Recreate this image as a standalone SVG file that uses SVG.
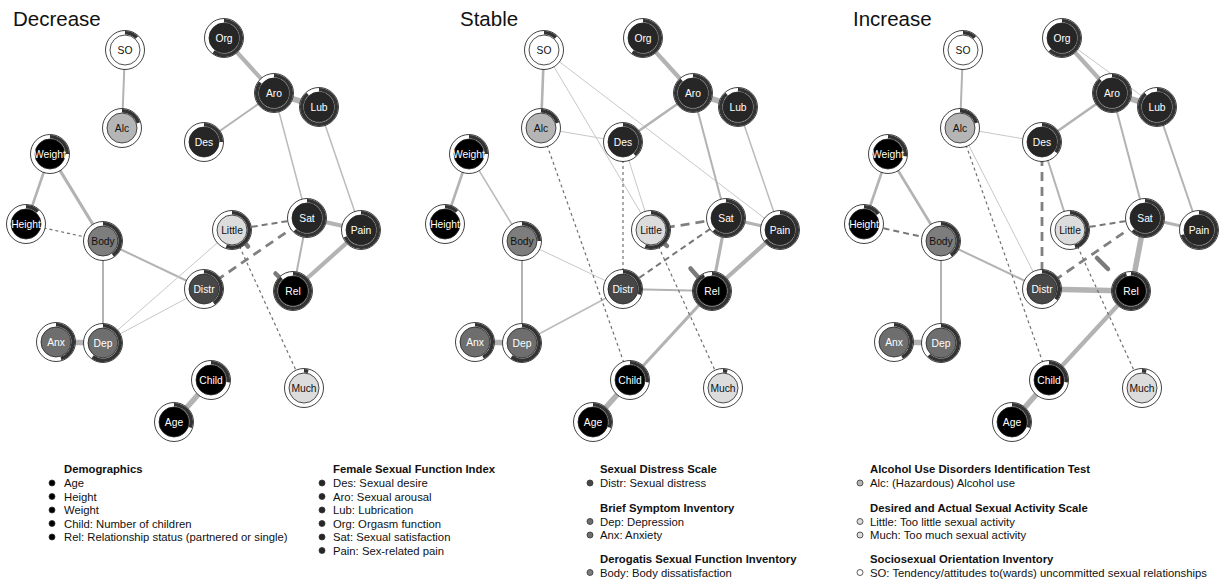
<svg xmlns="http://www.w3.org/2000/svg" width="1229" height="585" viewBox="0 0 1229 585">
<style>
.bg{fill:#fff}
.t{font-family:"Liberation Sans",Arial,Helvetica,sans-serif;font-size:20.5px;fill:#111}
.o{fill:#fff;stroke:#111;stroke-width:0.8}
.a{fill:none;stroke:#333;stroke-width:3.6}
.i{stroke:#222;stroke-width:0.8}
.lb{font-family:"Liberation Sans",Arial,Helvetica,sans-serif;font-size:10.3px;text-anchor:middle}
.w{fill:#fff}.k{fill:#111}
.demo{fill:#000}.fs{fill:#262626}.ds{fill:#474747}.bs{fill:#6e6e6e}.bd{fill:#7d7d7d}.al{fill:#b5b5b5}.dt{fill:#dcdcdc}.so{fill:#fff}
.e line{fill:none}
.s1{stroke:#c8c8c8;stroke-width:1}
.s15{stroke:#bbb;stroke-width:1.5}
.s2{stroke:#b3b3b3;stroke-width:2}
.s25{stroke:#b3b3b3;stroke-width:2.6}
.s3{stroke:#b3b3b3;stroke-width:3.2}
.s4{stroke:#b3b3b3;stroke-width:4.2}
.s5{stroke:#b3b3b3;stroke-width:5.5}
.d1{stroke:#707070;stroke-width:1.2;stroke-dasharray:3 3}
.d2{stroke:#777;stroke-width:2;stroke-dasharray:6 4}
.d3{stroke:#808080;stroke-width:2.8;stroke-dasharray:9 6}
.st{stroke:#7a7a7a;stroke-width:4.5;stroke-linecap:round}
.lh{font-family:"Liberation Sans",Arial,Helvetica,sans-serif;font-size:11.3px;font-weight:bold;fill:#111}
.li{font-family:"Liberation Sans",Arial,Helvetica,sans-serif;font-size:11.3px;fill:#111}
.bu{stroke:#333;stroke-width:0.8}
</style>
<rect class="bg" width="1229" height="585"/>
<text class="t" x="13" y="26">Decrease</text>
<text class="t" x="460" y="26">Stable</text>
<text class="t" x="853" y="26">Increase</text>

<g id="connectors" class="e">
<!-- Decrease -->
<line class="s2" x1="125" y1="50" x2="122" y2="128"/>
<line class="s4" x1="224" y1="38" x2="274" y2="93"/>
<line class="s5" x1="274" y1="93" x2="319" y2="107"/>
<line class="s2" x1="274" y1="93" x2="204" y2="142"/>
<line class="s15" x1="274" y1="93" x2="307" y2="218"/>
<line class="s15" x1="319" y1="107" x2="361" y2="230"/>
<line class="s25" x1="50" y1="154" x2="26" y2="224"/>
<line class="s3" x1="50" y1="154" x2="103" y2="241"/>
<line class="s2" x1="103" y1="241" x2="204" y2="289"/>
<line class="s2" x1="103" y1="241" x2="103" y2="343"/>
<line class="s5" x1="56" y1="342" x2="103" y2="343"/>
<line class="s1" x1="103" y1="343" x2="232" y2="230"/>
<line class="s1" x1="103" y1="343" x2="204" y2="289"/>
<line class="s4" x1="307" y1="218" x2="361" y2="230"/>
<line class="s2" x1="307" y1="218" x2="293" y2="291"/>
<line class="s4" x1="361" y1="230" x2="293" y2="291"/>
<line class="s5" x1="211" y1="380" x2="174" y2="422"/>
<line class="d1" x1="26" y1="224" x2="103" y2="241"/>
<line class="d2" x1="232" y1="230" x2="307" y2="218"/>
<line class="d3" x1="204" y1="289" x2="307" y2="218"/>
<line class="d1" x1="232" y1="230" x2="304" y2="388"/>
<line class="st" x1="245.8" y1="243.8" x2="248" y2="246.5"/>
<line class="st" x1="279.2" y1="277.2" x2="275.5" y2="273.5"/>
<!-- Stable -->
<line class="s25" x1="544" y1="50" x2="541" y2="128"/>
<line class="s1" x1="544" y1="50" x2="651" y2="230"/>
<line class="s1" x1="544" y1="50" x2="780" y2="230"/>
<line class="s1" x1="541" y1="128" x2="623" y2="142"/>
<line class="s1" x1="623" y1="142" x2="651" y2="230"/>
<line class="s4" x1="643" y1="38" x2="693" y2="93"/>
<line class="s5" x1="693" y1="93" x2="738" y2="107"/>
<line class="s25" x1="693" y1="93" x2="623" y2="142"/>
<line class="s2" x1="693" y1="93" x2="726" y2="218"/>
<line class="s15" x1="738" y1="107" x2="780" y2="230"/>
<line class="s25" x1="469" y1="154" x2="445" y2="224"/>
<line class="s15" x1="469" y1="154" x2="522" y2="241"/>
<line class="s1" x1="522" y1="241" x2="623" y2="289"/>
<line class="s2" x1="522" y1="241" x2="522" y2="343"/>
<line class="s5" x1="475" y1="342" x2="522" y2="343"/>
<line class="s15" x1="522" y1="343" x2="623" y2="289"/>
<line class="s2" x1="623" y1="289" x2="712" y2="291"/>
<line class="s3" x1="726" y1="218" x2="780" y2="230"/>
<line class="s3" x1="726" y1="218" x2="712" y2="291"/>
<line class="s4" x1="780" y1="230" x2="712" y2="291"/>
<line class="s3" x1="712" y1="291" x2="630" y2="380"/>
<line class="s5" x1="630" y1="380" x2="593" y2="422"/>
<line class="d1" x1="541" y1="128" x2="630" y2="380"/>
<line class="d1" x1="623" y1="142" x2="623" y2="289"/>
<line class="d2" x1="623" y1="289" x2="726" y2="218"/>
<line class="d3" x1="651" y1="230" x2="726" y2="218"/>
<line class="d1" x1="651" y1="230" x2="723" y2="388"/>
<line class="st" x1="664.8" y1="243.8" x2="667" y2="246"/>
<line class="st" x1="698" y1="277" x2="690.5" y2="268.5"/>
<!-- Increase -->
<line class="s2" x1="963" y1="50" x2="960" y2="128"/>
<line class="s4" x1="1062" y1="38" x2="1112" y2="93"/>
<line class="s1" x1="1062" y1="38" x2="1157" y2="107"/>
<line class="s5" x1="1112" y1="93" x2="1157" y2="107"/>
<line class="s25" x1="1112" y1="93" x2="1042" y2="142"/>
<line class="s2" x1="1112" y1="93" x2="1145" y2="218"/>
<line class="s2" x1="1157" y1="107" x2="1199" y2="230"/>
<line class="s1" x1="960" y1="128" x2="1042" y2="142"/>
<line class="s1" x1="960" y1="128" x2="1042" y2="289"/>
<line class="s2" x1="1042" y1="142" x2="1070" y2="230"/>
<line class="s25" x1="888" y1="154" x2="864" y2="224"/>
<line class="s25" x1="888" y1="154" x2="941" y2="241"/>
<line class="s2" x1="941" y1="241" x2="1042" y2="289"/>
<line class="s2" x1="941" y1="241" x2="941" y2="343"/>
<line class="s5" x1="894" y1="342" x2="941" y2="343"/>
<line class="s5" x1="1042" y1="289" x2="1131" y2="291"/>
<line class="s5" x1="1145" y1="218" x2="1131" y2="291"/>
<line class="s3" x1="1145" y1="218" x2="1199" y2="230"/>
<line class="s4" x1="1131" y1="291" x2="1049" y2="380"/>
<line class="s5" x1="1049" y1="380" x2="1012" y2="422"/>
<line class="d2" x1="864" y1="224" x2="941" y2="241"/>
<line class="d1" x1="960" y1="128" x2="1049" y2="380"/>
<line class="d3" x1="1042" y1="142" x2="1042" y2="289"/>
<line class="d2" x1="1070" y1="230" x2="1145" y2="218"/>
<line class="d3" x1="1042" y1="289" x2="1145" y2="218"/>
<line class="d1" x1="1070" y1="230" x2="1142" y2="388"/>
<line class="st" x1="1097" y1="258" x2="1108" y2="269"/>
</g>

<!-- Decrease nodes -->
<g id="dec-SO" transform="translate(125,50)"><circle class="o" r="19.5"/><circle class="a" r="17.25" stroke-dasharray="13 120" transform="rotate(-90)"/><circle class="i so" r="15"/><text class="lb k" y="3.6">SO</text></g>
<g id="dec-Alc" transform="translate(122,128)"><circle class="o" r="19.5"/><circle class="a" r="17.25" stroke-dasharray="21.7 120" transform="rotate(-90)"/><circle class="i al" r="15"/><text class="lb k" y="3.6">Alc</text></g>
<g id="dec-Org" transform="translate(224,38)"><circle class="o" r="19.5"/><circle class="a" r="17.25" stroke-dasharray="65 120" transform="rotate(-90)"/><circle class="i fs" r="15"/><text class="lb w" y="3.6">Org</text></g>
<g id="dec-Aro" transform="translate(274,93)"><circle class="o" r="19.5"/><circle class="a" r="17.25" stroke-dasharray="92 120" transform="rotate(-90)"/><circle class="i fs" r="15"/><text class="lb w" y="3.6">Aro</text></g>
<g id="dec-Lub" transform="translate(319,107)"><circle class="o" r="19.5"/><circle class="a" r="17.25" stroke-dasharray="95.4 120" transform="rotate(-90)"/><circle class="i fs" r="15"/><text class="lb w" y="3.6">Lub</text></g>
<g id="dec-Des" transform="translate(204,142)"><circle class="o" r="19.5"/><circle class="a" r="17.25" stroke-dasharray="27 120" transform="rotate(-90)"/><circle class="i fs" r="15"/><text class="lb w" y="3.6">Des</text></g>
<g id="dec-Weight" transform="translate(50,154)"><circle class="o" r="19.5"/><circle class="a" r="17.25" stroke-dasharray="27 120" transform="rotate(-90)"/><circle class="i demo" r="15"/><text class="lb w" y="3.6">Weight</text></g>
<g id="dec-Height" transform="translate(26,224)"><circle class="o" r="19.5"/><circle class="a" r="17.25" stroke-dasharray="13 120" transform="rotate(-90)"/><circle class="i demo" r="15"/><text class="lb w" y="3.6">Height</text></g>
<g id="dec-Body" transform="translate(103,241)"><circle class="o" r="19.5"/><circle class="a" r="17.25" stroke-dasharray="43.4 120" transform="rotate(-90)"/><circle class="i bd" r="15"/><text class="lb k" y="3.6">Body</text></g>
<g id="dec-Little" transform="translate(232,230)"><circle class="o" r="19.5"/><circle class="a" r="17.25" stroke-dasharray="59.6 120" transform="rotate(-90)"/><circle class="i dt" r="15"/><text class="lb k" y="3.6">Little</text></g>
<g id="dec-Sat" transform="translate(307,218)"><circle class="o" r="19.5"/><circle class="a" r="17.25" stroke-dasharray="67.2 120" transform="rotate(-90)"/><circle class="i fs" r="15"/><text class="lb w" y="3.6">Sat</text></g>
<g id="dec-Pain" transform="translate(361,230)"><circle class="o" r="19.5"/><circle class="a" r="17.25" stroke-dasharray="73.7 120" transform="rotate(-90)"/><circle class="i fs" r="15"/><text class="lb w" y="3.6">Pain</text></g>
<g id="dec-Distr" transform="translate(204,289)"><circle class="o" r="19.5"/><circle class="a" r="17.25" stroke-dasharray="43.4 120" transform="rotate(-90)"/><circle class="i ds" r="15"/><text class="lb w" y="3.6">Distr</text></g>
<g id="dec-Rel" transform="translate(293,291)"><circle class="o" r="19.5"/><circle class="a" r="17.25" stroke-dasharray="95.4 120" transform="rotate(-90)"/><circle class="i demo" r="15"/><text class="lb w" y="3.6">Rel</text></g>
<g id="dec-Anx" transform="translate(56,342)"><circle class="o" r="19.5"/><circle class="a" r="17.25" stroke-dasharray="48.8 120" transform="rotate(-90)"/><circle class="i bs" r="15"/><text class="lb w" y="3.6">Anx</text></g>
<g id="dec-Dep" transform="translate(103,343)"><circle class="o" r="19.5"/><circle class="a" r="17.25" stroke-dasharray="65 120" transform="rotate(-90)"/><circle class="i bs" r="15"/><text class="lb w" y="3.6">Dep</text></g>
<g id="dec-Child" transform="translate(211,380)"><circle class="o" r="19.5"/><circle class="a" r="17.25" stroke-dasharray="29.3 120" transform="rotate(-90)"/><circle class="i demo" r="15"/><text class="lb w" y="3.6">Child</text></g>
<g id="dec-Age" transform="translate(174,422)"><circle class="o" r="19.5"/><circle class="a" r="17.25" stroke-dasharray="32.5 120" transform="rotate(-90)"/><circle class="i demo" r="15"/><text class="lb w" y="3.6">Age</text></g>
<g id="dec-Much" transform="translate(304,388)"><circle class="o" r="19.5"/><circle class="a" r="17.25" stroke-dasharray="4.3 120" transform="rotate(-90)"/><circle class="i dt" r="15"/><text class="lb k" y="3.6">Much</text></g>

<!-- Stable nodes -->
<g id="sta-SO" transform="translate(544,50)"><circle class="o" r="19.5"/><circle class="a" r="17.25" stroke-dasharray="13 120" transform="rotate(-90)"/><circle class="i so" r="15"/><text class="lb k" y="3.6">SO</text></g>
<g id="sta-Alc" transform="translate(541,128)"><circle class="o" r="19.5"/><circle class="a" r="17.25" stroke-dasharray="21.7 120" transform="rotate(-90)"/><circle class="i al" r="15"/><text class="lb k" y="3.6">Alc</text></g>
<g id="sta-Org" transform="translate(643,38)"><circle class="o" r="19.5"/><circle class="a" r="17.25" stroke-dasharray="65 120" transform="rotate(-90)"/><circle class="i fs" r="15"/><text class="lb w" y="3.6">Org</text></g>
<g id="sta-Aro" transform="translate(693,93)"><circle class="o" r="19.5"/><circle class="a" r="17.25" stroke-dasharray="95.4 120" transform="rotate(-90)"/><circle class="i fs" r="15"/><text class="lb w" y="3.6">Aro</text></g>
<g id="sta-Lub" transform="translate(738,107)"><circle class="o" r="19.5"/><circle class="a" r="17.25" stroke-dasharray="95.4 120" transform="rotate(-90)"/><circle class="i fs" r="15"/><text class="lb w" y="3.6">Lub</text></g>
<g id="sta-Des" transform="translate(623,142)"><circle class="o" r="19.5"/><circle class="a" r="17.25" stroke-dasharray="41.2 120" transform="rotate(-90)"/><circle class="i fs" r="15"/><text class="lb w" y="3.6">Des</text></g>
<g id="sta-Weight" transform="translate(469,154)"><circle class="o" r="19.5"/><circle class="a" r="17.25" stroke-dasharray="27 120" transform="rotate(-90)"/><circle class="i demo" r="15"/><text class="lb w" y="3.6">Weight</text></g>
<g id="sta-Height" transform="translate(445,224)"><circle class="o" r="19.5"/><circle class="a" r="17.25" stroke-dasharray="13 120" transform="rotate(-90)"/><circle class="i demo" r="15"/><text class="lb w" y="3.6">Height</text></g>
<g id="sta-Body" transform="translate(522,241)"><circle class="o" r="19.5"/><circle class="a" r="17.25" stroke-dasharray="27 120" transform="rotate(-90)"/><circle class="i bd" r="15"/><text class="lb k" y="3.6">Body</text></g>
<g id="sta-Little" transform="translate(651,230)"><circle class="o" r="19.5"/><circle class="a" r="17.25" stroke-dasharray="59.6 120" transform="rotate(-90)"/><circle class="i dt" r="15"/><text class="lb k" y="3.6">Little</text></g>
<g id="sta-Sat" transform="translate(726,218)"><circle class="o" r="19.5"/><circle class="a" r="17.25" stroke-dasharray="67.2 120" transform="rotate(-90)"/><circle class="i fs" r="15"/><text class="lb w" y="3.6">Sat</text></g>
<g id="sta-Pain" transform="translate(780,230)"><circle class="o" r="19.5"/><circle class="a" r="17.25" stroke-dasharray="70.5 120" transform="rotate(-90)"/><circle class="i fs" r="15"/><text class="lb w" y="3.6">Pain</text></g>
<g id="sta-Distr" transform="translate(623,289)"><circle class="o" r="19.5"/><circle class="a" r="17.25" stroke-dasharray="32.5 120" transform="rotate(-90)"/><circle class="i ds" r="15"/><text class="lb w" y="3.6">Distr</text></g>
<g id="sta-Rel" transform="translate(712,291)"><circle class="o" r="19.5"/><circle class="a" r="17.25" stroke-dasharray="99.7 120" transform="rotate(-90)"/><circle class="i demo" r="15"/><text class="lb w" y="3.6">Rel</text></g>
<g id="sta-Anx" transform="translate(475,342)"><circle class="o" r="19.5"/><circle class="a" r="17.25" stroke-dasharray="45.5 120" transform="rotate(-90)"/><circle class="i bs" r="15"/><text class="lb w" y="3.6">Anx</text></g>
<g id="sta-Dep" transform="translate(522,343)"><circle class="o" r="19.5"/><circle class="a" r="17.25" stroke-dasharray="65 120" transform="rotate(-90)"/><circle class="i bs" r="15"/><text class="lb w" y="3.6">Dep</text></g>
<g id="sta-Child" transform="translate(630,380)"><circle class="o" r="19.5"/><circle class="a" r="17.25" stroke-dasharray="29.3 120" transform="rotate(-90)"/><circle class="i demo" r="15"/><text class="lb w" y="3.6">Child</text></g>
<g id="sta-Age" transform="translate(593,422)"><circle class="o" r="19.5"/><circle class="a" r="17.25" stroke-dasharray="32.5 120" transform="rotate(-90)"/><circle class="i demo" r="15"/><text class="lb w" y="3.6">Age</text></g>
<g id="sta-Much" transform="translate(723,388)"><circle class="o" r="19.5"/><circle class="a" r="17.25" stroke-dasharray="4.3 120" transform="rotate(-90)"/><circle class="i dt" r="15"/><text class="lb k" y="3.6">Much</text></g>

<!-- Increase nodes -->
<g id="inc-SO" transform="translate(963,50)"><circle class="o" r="19.5"/><circle class="a" r="17.25" stroke-dasharray="13 120" transform="rotate(-90)"/><circle class="i so" r="15"/><text class="lb k" y="3.6">SO</text></g>
<g id="inc-Alc" transform="translate(960,128)"><circle class="o" r="19.5"/><circle class="a" r="17.25" stroke-dasharray="21.7 120" transform="rotate(-90)"/><circle class="i al" r="15"/><text class="lb k" y="3.6">Alc</text></g>
<g id="inc-Org" transform="translate(1062,38)"><circle class="o" r="19.5"/><circle class="a" r="17.25" stroke-dasharray="67.2 120" transform="rotate(-90)"/><circle class="i fs" r="15"/><text class="lb w" y="3.6">Org</text></g>
<g id="inc-Aro" transform="translate(1112,93)"><circle class="o" r="19.5"/><circle class="a" r="17.25" stroke-dasharray="95.4 120" transform="rotate(-90)"/><circle class="i fs" r="15"/><text class="lb w" y="3.6">Aro</text></g>
<g id="inc-Lub" transform="translate(1157,107)"><circle class="o" r="19.5"/><circle class="a" r="17.25" stroke-dasharray="95.4 120" transform="rotate(-90)"/><circle class="i fs" r="15"/><text class="lb w" y="3.6">Lub</text></g>
<g id="inc-Des" transform="translate(1042,142)"><circle class="o" r="19.5"/><circle class="a" r="17.25" stroke-dasharray="37.9 120" transform="rotate(-90)"/><circle class="i fs" r="15"/><text class="lb w" y="3.6">Des</text></g>
<g id="inc-Weight" transform="translate(888,154)"><circle class="o" r="19.5"/><circle class="a" r="17.25" stroke-dasharray="29.3 120" transform="rotate(-90)"/><circle class="i demo" r="15"/><text class="lb w" y="3.6">Weight</text></g>
<g id="inc-Height" transform="translate(864,224)"><circle class="o" r="19.5"/><circle class="a" r="17.25" stroke-dasharray="16.3 120" transform="rotate(-90)"/><circle class="i demo" r="15"/><text class="lb w" y="3.6">Height</text></g>
<g id="inc-Body" transform="translate(941,241)"><circle class="o" r="19.5"/><circle class="a" r="17.25" stroke-dasharray="43.4 120" transform="rotate(-90)"/><circle class="i bd" r="15"/><text class="lb k" y="3.6">Body</text></g>
<g id="inc-Little" transform="translate(1070,230)"><circle class="o" r="19.5"/><circle class="a" r="17.25" stroke-dasharray="48.8 120" transform="rotate(-90)"/><circle class="i dt" r="15"/><text class="lb k" y="3.6">Little</text></g>
<g id="inc-Sat" transform="translate(1145,218)"><circle class="o" r="19.5"/><circle class="a" r="17.25" stroke-dasharray="67.2 120" transform="rotate(-90)"/><circle class="i fs" r="15"/><text class="lb w" y="3.6">Sat</text></g>
<g id="inc-Pain" transform="translate(1199,230)"><circle class="o" r="19.5"/><circle class="a" r="17.25" stroke-dasharray="75.9 120" transform="rotate(-90)"/><circle class="i fs" r="15"/><text class="lb w" y="3.6">Pain</text></g>
<g id="inc-Distr" transform="translate(1042,289)"><circle class="o" r="19.5"/><circle class="a" r="17.25" stroke-dasharray="37.9 120" transform="rotate(-90)"/><circle class="i ds" r="15"/><text class="lb w" y="3.6">Distr</text></g>
<g id="inc-Rel" transform="translate(1131,291)"><circle class="o" r="19.5"/><circle class="a" r="17.25" stroke-dasharray="103 120" transform="rotate(-90)"/><circle class="i demo" r="15"/><text class="lb w" y="3.6">Rel</text></g>
<g id="inc-Anx" transform="translate(894,342)"><circle class="o" r="19.5"/><circle class="a" r="17.25" stroke-dasharray="45.5 120" transform="rotate(-90)"/><circle class="i bs" r="15"/><text class="lb w" y="3.6">Anx</text></g>
<g id="inc-Dep" transform="translate(941,343)"><circle class="o" r="19.5"/><circle class="a" r="17.25" stroke-dasharray="67.2 120" transform="rotate(-90)"/><circle class="i bs" r="15"/><text class="lb w" y="3.6">Dep</text></g>
<g id="inc-Child" transform="translate(1049,380)"><circle class="o" r="19.5"/><circle class="a" r="17.25" stroke-dasharray="29.3 120" transform="rotate(-90)"/><circle class="i demo" r="15"/><text class="lb w" y="3.6">Child</text></g>
<g id="inc-Age" transform="translate(1012,422)"><circle class="o" r="19.5"/><circle class="a" r="17.25" stroke-dasharray="32.5 120" transform="rotate(-90)"/><circle class="i demo" r="15"/><text class="lb w" y="3.6">Age</text></g>
<g id="inc-Much" transform="translate(1142,388)"><circle class="o" r="19.5"/><circle class="a" r="17.25" stroke-dasharray="4.3 120" transform="rotate(-90)"/><circle class="i dt" r="15"/><text class="lb k" y="3.6">Much</text></g>

<!-- Legend -->
<g id="legend">
<text class="lh" x="64" y="473">Demographics</text>
<circle class="bu demo" cx="52" cy="483" r="3"/><text class="li" x="64" y="487">Age</text>
<circle class="bu demo" cx="52" cy="496.5" r="3"/><text class="li" x="64" y="500.5">Height</text>
<circle class="bu demo" cx="52" cy="510" r="3"/><text class="li" x="64" y="514">Weight</text>
<circle class="bu demo" cx="52" cy="523.5" r="3"/><text class="li" x="64" y="527.5">Child: Number of children</text>
<circle class="bu demo" cx="52" cy="537" r="3"/><text class="li" x="64" y="541">Rel: Relationship status (partnered or single)</text>

<text class="lh" x="333" y="473">Female Sexual Function Index</text>
<circle class="bu fs" cx="322" cy="483" r="3"/><text class="li" x="333" y="487">Des: Sexual desire</text>
<circle class="bu fs" cx="322" cy="496.5" r="3"/><text class="li" x="333" y="500.5">Aro: Sexual arousal</text>
<circle class="bu fs" cx="322" cy="510" r="3"/><text class="li" x="333" y="514">Lub: Lubrication</text>
<circle class="bu fs" cx="322" cy="523.5" r="3"/><text class="li" x="333" y="527.5">Org: Orgasm function</text>
<circle class="bu fs" cx="322" cy="537" r="3"/><text class="li" x="333" y="541">Sat: Sexual satisfaction</text>
<circle class="bu fs" cx="322" cy="550.5" r="3"/><text class="li" x="333" y="554.5">Pain: Sex-related pain</text>

<text class="lh" x="600" y="473">Sexual Distress Scale</text>
<circle class="bu ds" cx="590" cy="483" r="3"/><text class="li" x="600" y="487">Distr: Sexual distress</text>
<text class="lh" x="600" y="512">Brief Symptom Inventory</text>
<circle class="bu bs" cx="590" cy="521.5" r="3"/><text class="li" x="600" y="525.5">Dep: Depression</text>
<circle class="bu bs" cx="590" cy="535" r="3"/><text class="li" x="600" y="539">Anx: Anxiety</text>
<text class="lh" x="600" y="563">Derogatis Sexual Function Inventory</text>
<circle class="bu bd" cx="590" cy="572.5" r="3"/><text class="li" x="600" y="576.5">Body: Body dissatisfaction</text>

<text class="lh" x="870" y="473">Alcohol Use Disorders Identification Test</text>
<circle class="bu al" cx="860" cy="483" r="3"/><text class="li" x="870" y="487">Alc: (Hazardous) Alcohol use</text>
<text class="lh" x="870" y="512">Desired and Actual Sexual Activity Scale</text>
<circle class="bu dt" cx="860" cy="521.5" r="3"/><text class="li" x="870" y="525.5">Little: Too little sexual activity</text>
<circle class="bu dt" cx="860" cy="535" r="3"/><text class="li" x="870" y="539">Much: Too much sexual activity</text>
<text class="lh" x="870" y="563">Sociosexual Orientation Inventory</text>
<circle class="bu so" cx="860" cy="572.5" r="3"/><text class="li" x="870" y="576.5">SO: Tendency/attitudes to(wards) uncommitted sexual relationships</text>
</g>
</svg>
